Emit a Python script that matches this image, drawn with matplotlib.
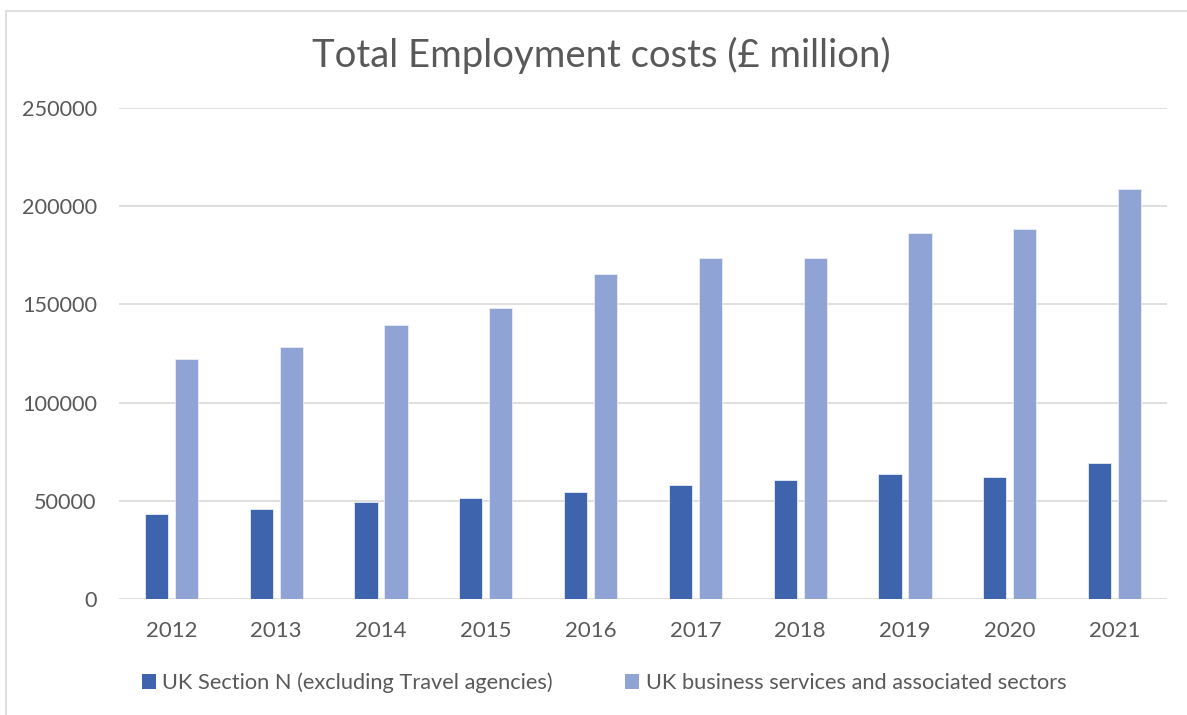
import matplotlib
matplotlib.use("Agg")
import matplotlib.pyplot as plt
from matplotlib.patches import Patch, Rectangle
import numpy as np

# Data (£ million)
years = ["2012", "2013", "2014", "2015", "2016", "2017", "2018", "2019", "2020", "2021"]
section_n = [43100, 45600, 49500, 51400, 54400, 58000, 60700, 63900, 61900, 69500]
business_services = [122100, 128300, 139400, 148000, 165700, 173800, 173400, 186200, 188200, 208700]
series_labels = ["UK Section N (excluding Travel agencies)",
                 "UK business services and associated sectors"]
y_ticks = [0, 50000, 100000, 150000, 200000, 250000]

DARK = "#3D64AD"
LIGHT = "#8FA4D4"
TEXT = "#595959"
GRID = "#D9D9D9"

plt.rcParams["font.family"] = ["Lato", "DejaVu Sans"]

fig = plt.figure(figsize=(11.87, 7.15), dpi=100)
fig.patch.set_facecolor("white")

# Chart-area border
fig.patches.append(Rectangle((6 / 1187, -0.05), 1.2, 1 - 11 / 715 + 0.05,
                             transform=fig.transFigure, fill=False,
                             edgecolor="#D9D9D9", linewidth=1.2))

ax = fig.add_axes([119 / 1187, (715 - 599) / 715, 1048 / 1187, 491 / 715])
x = np.arange(len(years))
w = 0.22
off = 0.143
ax.bar(x - off, section_n, width=w, color=DARK, edgecolor="#E8ECF6",
       linewidth=0.6, zorder=3)
ax.bar(x + off, business_services, width=w, color=LIGHT, edgecolor="#E8ECF6",
       linewidth=0.6, zorder=3)

ax.set_xlim(-0.5, len(years) - 0.5)
ax.set_ylim(0, 250000)
ax.set_yticks(y_ticks)
ax.set_yticklabels([str(v) for v in y_ticks])
ax.set_xticks(x)
ax.set_xticklabels(years)
ax.tick_params(axis="both", length=0, labelcolor=TEXT)
ax.tick_params(axis="y", pad=16, labelsize=15.6)
ax.tick_params(axis="x", pad=15.5, labelsize=16)
ax.grid(axis="y", color=GRID, linewidth=1.2, zorder=0)
for s in ax.spines.values():
    s.set_visible(False)

fig.text(601 / 1187, 1 - 55 / 715, "Total Employment costs (£ million)",
         ha="center", va="center", fontsize=27.5, color=TEXT)

handles = [Patch(facecolor=DARK), Patch(facecolor=LIGHT)]
fig.legend(handles, series_labels, loc="center",
           bbox_to_anchor=(604 / 1187, 1 - 683 / 715), ncol=2, frameon=False,
           fontsize=15.7, labelcolor=TEXT, handlelength=0.65, handleheight=0.65,
           handletextpad=0.3, columnspacing=3.3)

fig.savefig("out.png", dpi=100, facecolor="white")
